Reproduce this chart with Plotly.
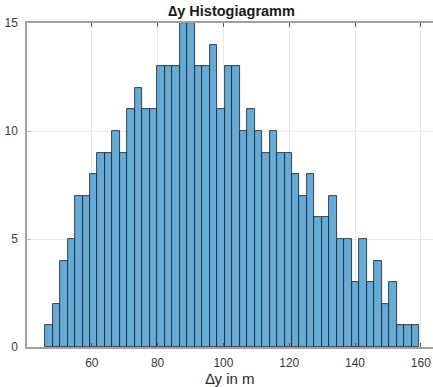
import plotly.graph_objects as go

# histogram data (counts per bin)
counts = [1, 2, 4, 5, 7, 7, 8, 9, 9, 10,
          9, 11, 12, 11, 11, 13, 13, 13, 15, 15,
          13, 13, 14, 11, 13, 13, 10, 11, 10, 9,
          10, 9, 9, 8, 7, 8, 6, 6, 7, 5,
          5, 3, 5, 3, 4, 2, 3, 1, 1, 1]
bin_start = 45.8
bin_width = 2.274
x_ticks = [60, 80, 100, 120, 140, 160]
y_ticks = [0, 5, 10, 15]

centers = [bin_start + bin_width * (i + 0.5) for i in range(len(counts))]

fig = go.Figure()
fig.add_trace(go.Bar(
    x=centers, y=counts, width=bin_width,
    marker=dict(color="#66AAD7", line=dict(color="#1a1a1a", width=0.8)),
))

axis_font = dict(family="Liberation Sans, Arial, sans-serif", size=12, color="#3a3a3a")
fig.update_layout(
    width=433, height=387,
    margin=dict(l=27, r=0, t=23, b=40),
    paper_bgcolor="white", plot_bgcolor="white",
    showlegend=False,
    bargap=0,
    title=dict(text="<b>\u2206y Histogiagramm</b>", x=0.535, xanchor="center",
               y=1 - 11 / 387, yanchor="middle",
               font=dict(family="Liberation Sans, Arial, sans-serif", size=14.5, color="#1a1a1a")),
    xaxis=dict(range=[40.3, 163.7], tickvals=x_ticks, ticks="inside", ticklen=4,
               tickcolor="#555555", showline=True, linecolor="#a0a0a0", linewidth=1.5,
               mirror="ticks", showgrid=True, gridcolor="#e8e8e8", gridwidth=1,
               zeroline=False, tickfont=axis_font, ticklabelstandoff=4,
               title=dict(text="\u2206y in m", standoff=3,
                          font=dict(family="Liberation Sans, Arial, sans-serif", size=15, color="#2a2a2a"))),
    yaxis=dict(range=[0, 15], tickvals=y_ticks, ticks="inside", ticklen=4,
               tickcolor="#bbbbbb", showline=True,
               linecolor="#a0a0a0", linewidth=1.5, showgrid=True, gridcolor="#e8e8e8",
               gridwidth=1, zeroline=False, tickfont=axis_font, ticklabelstandoff=5),
)

fig.write_html("out.html", config={"displayModeBar": False},
               post_script="document.body.style.margin='0';document.body.style.overflow='hidden';")
